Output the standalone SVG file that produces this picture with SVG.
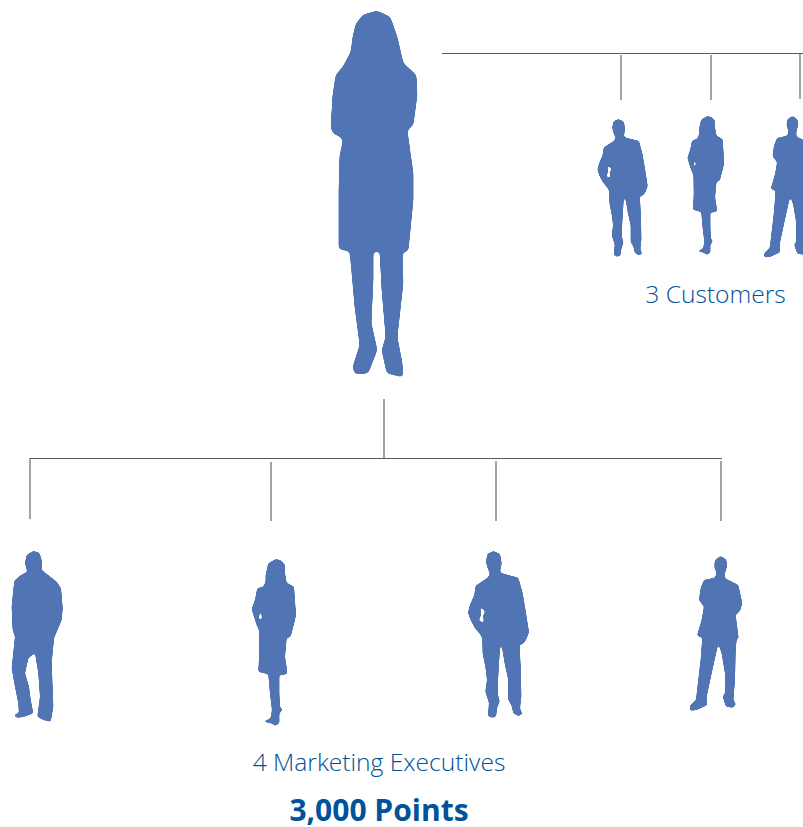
<svg xmlns="http://www.w3.org/2000/svg" width="803" height="827" viewBox="0 0 803 827">
<style>
.s{fill:#5175b4;fill-rule:evenodd;stroke:#5175b4;stroke-linejoin:round}
.c{stroke:#5a5a5a;stroke-width:1.1;fill:none}
.t{stroke:#9a9a9a;stroke-width:1.8;fill:none}
.f{filter:url(#smooth)}
.F{filter:url(#smoothBig)}
text{font-family:"Open Sans","Noto Sans","Liberation Sans",sans-serif;fill:#00529b;text-anchor:middle}
.l{font-weight:300;font-size:24.6px}
</style>
<defs>
<filter id="smooth" x="-10%" y="-10%" width="120%" height="120%" color-interpolation-filters="sRGB">
<feGaussianBlur stdDeviation="1"/>
<feComponentTransfer><feFuncA type="linear" slope="6" intercept="-2.5"/></feComponentTransfer>
</filter>
<filter id="smoothBig" x="-10%" y="-10%" width="120%" height="120%" color-interpolation-filters="sRGB">
<feGaussianBlur stdDeviation="2"/>
<feComponentTransfer><feFuncA type="linear" slope="10" intercept="-4.5"/></feComponentTransfer>
</filter>
<path id="manA" d="M130 33L112 42L108 65L113 85L120 100L115 112L95 125L77 137L73 165L60 195L54 218L62 240L75 265L90 282L97 295L98 340L107 385L111 420L106 455L117 488L114 528L125 533L138 530L142 500L149 485L143 460L144 420L150 320L155 315L165 375L175 420L175 480L185 497L190 520L205 528L217 523L210 505L214 470L212 380L208 310L216 315L228 300L237 277L228 220L218 160L205 113L155 100L150 95L155 70L150 42ZM90 198L106 215L99 228L103 249L86 242L93 225Z"/>
<path id="manB" d="M812 48L795 60L793 80L800 100L795 113L762 120L752 145L747 180L762 200L755 240L741 287L757 293L752 360L745 420L738 480L720 497L720 512L740 510L772 495L770 470L785 400L805 310L815 340L825 400L825 460L818 470L828 500L850 503L858 492L850 480L855 420L857 330L860 298L866 295L857 225L870 213L877 190L865 135L825 115L825 100L832 75L828 58Z"/>
<path id="manC" d="M100 33L80 45L75 70L82 95L60 107L43 122L38 170L35 200L38 270L45 290L35 385L45 440L55 490L57 518L42 525L50 533L70 531L100 520L92 480L87 440L75 400L85 355L105 338L115 400L120 470L112 530L130 540L152 545L160 500L155 370L162 295L185 240L188 205L183 145L170 125L125 90L125 60L118 38Z"/>
<path id="woman" d="M828 57L805 70L797 105L797 125L790 140L772 145L765 180L755 208L770 255L777 270L778 340L775 395L805 403L810 460L816 510L812 535L790 545L815 550L825 558L838 550L838 520L848 510L840 500L838 460L838 405L860 403L862 395L855 350L860 295L872 290L885 240L888 225L882 140L860 128L855 100L855 75L845 62ZM780 202L787 235L776 242ZM851 222L864 252L858 235Z"/>
</defs>
<g id="connectors">
<path class="c" d="M442 53.5H803M800 53V99M621 55V100"/>
<path class="t" d="M711 55V100M271 462V521M496 461V521"/>
<path class="c" d="M384 399V458M30 458.5H722M30 458V519M721 461V521"/>
</g>
<g id="lead" class="F"><path class="s" d="M377 11L363 15L356 24L353 37L351 52L343 67L336 75L333 95L331 127L333 133L343 138L342 147L340 155L339 190L339 249L350 251L352 273L355 307L360 345L353 367L355 374L368 373L377 350L371 323L373 280L373 251L380 251L382 290L386 337L382 350L387 373L403 377L402 363L397 337L403 283L402 252L408 251L413 200L413 173L410 152L407 130L413 125L417 95L416 75L403 63L397 37L390 17Z"/></g>
<g id="customer-1" class="f"><use href="#manA" class="s" transform="translate(582.5 109.9) scale(.2753)"/></g>
<g id="customer-2" class="f"><use href="#woman" class="s" transform="translate(478 100.2) scale(.2773)"/></g>
<g id="customer-3" class="f"><use href="#manB" class="s" transform="translate(544.7 101.3) scale(.305)"/></g>
<g id="exec-1" class="f"><use href="#manC" class="s" transform="translate(0 540) scale(.3333)"/></g>
<g id="exec-2" class="f"><use href="#woman" class="s" transform="translate(0 540) scale(.3333)"/></g>
<g id="exec-3" class="f"><use href="#manA" class="s" transform="translate(450 540) scale(.3333)"/></g>
<g id="exec-4" class="f"><use href="#manB" class="s" transform="translate(450 540) scale(.3333)"/></g>
<text class="l" x="715.5" y="303">3 Customers</text>
<text class="l" x="379" y="771">4 Marketing Executives</text>
<text x="379" y="821" font-size="30" font-weight="700">3,000 Points</text>
</svg>
